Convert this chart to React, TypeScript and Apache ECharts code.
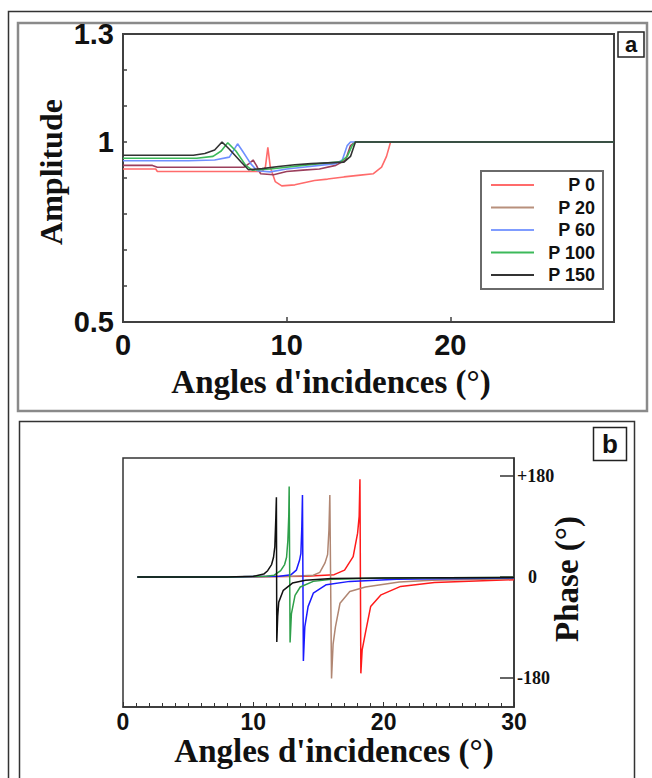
import React, { useEffect, useRef } from "react";
import * as echarts from "echarts";

// ---------- data ----------
const seriesNames = ["P 0", "P 20", "P 60", "P 100", "P 150"];

// Amplitude vs incidence angle (panel a)
const ampP0 = [[0,0.925],[2,0.925],[2.1,0.918],[5,0.918],[8.5,0.918],[8.7,0.93],[8.85,0.985],[9.0,0.93],[9.3,0.89],[9.7,0.878],[10.5,0.881],[11.7,0.893],[12.5,0.897],[13.5,0.903],[14.5,0.908],[15.3,0.912],[15.8,0.93],[16.1,0.96],[16.35,1.0],[30,1.0]];
const ampP20 = [[0,0.935],[1.8,0.935],[2.1,0.93],[7.4,0.93],[7.7,0.94],[7.95,0.95],[8.15,0.935],[8.4,0.912],[9.2,0.909],[10,0.918],[11,0.922],[12,0.925],[13,0.935],[13.6,0.95],[13.9,0.99],[14.2,1.0],[30,1.0]];
const ampP60 = [[0,0.948],[4,0.948],[5.6,0.95],[6.5,0.958],[7.0,0.995],[7.3,0.975],[7.8,0.94],[8.2,0.92],[9,0.917],[10,0.925],[11,0.93],[12,0.935],[13,0.94],[13.4,0.95],[13.7,0.99],[13.9,1.0],[30,1.0]];
const ampP100 = [[0,0.955],[4.5,0.955],[5.5,0.96],[6.0,0.975],[6.4,0.998],[6.9,0.975],[7.5,0.935],[7.9,0.922],[9,0.925],[10,0.93],[11,0.935],[12,0.94],[13.3,0.945],[13.7,0.96],[14.0,0.99],[14.2,1.0],[30,1.0]];
const ampP150 = [[0,0.963],[4.3,0.963],[5,0.968],[5.6,0.978],[6.05,1.0],[6.5,0.98],[7.2,0.945],[7.67,0.923],[8.5,0.926],[9.5,0.932],[10.5,0.937],[11.5,0.94],[12.5,0.942],[13.5,0.944],[13.9,0.96],[14.2,1.0],[30,1.0]];

// Phase vs incidence angle (panel b)
const phP0 = [[1.1,0],[8,0],[14,1],[16.2,4],[17,12],[17.66,36],[18.0,78],[18.12,108],[18.18,174],[18.25,-172],[18.35,-130],[18.6,-100],[19.0,-53],[19.8,-32],[21.3,-17],[23.9,-10],[30,-5]];
const phP20 = [[1.1,0],[8,0],[13,1],[14.6,3],[15.1,8],[15.5,25],[15.7,40],[15.8,83],[15.87,146],[16.0,-181],[16.12,-120],[16.3,-89],[16.65,-47],[17.4,-26],[18.6,-18],[21.2,-9],[23.7,-6],[30,-3]];
const phP60 = [[1.1,0],[8,0],[12,1],[12.9,4],[13.3,12],[13.55,30],[13.65,42],[13.72,89],[13.77,146],[13.84,-150],[13.95,-89],[14.2,-53],[14.6,-29],[15.6,-14],[17.4,-8],[21,-4],[30,-2]];
const phP100 = [[1.1,0],[8,0],[11,1],[11.6,3],[12.1,11],[12.4,22],[12.55,35],[12.65,65],[12.72,110],[12.75,161],[12.82,-117],[12.92,-66],[13.2,-33],[13.6,-18],[14.6,-8],[16,-4],[20,-2],[30,-1]];
const phP150 = [[1.1,0],[8,0],[10,1],[10.8,5],[11.1,11],[11.4,22],[11.55,35],[11.65,54],[11.72,101],[11.77,142],[11.8,-116],[11.87,-70],[11.95,-45],[12.3,-24],[13,-11],[14,-6],[16,-3],[20,-2],[30,-1]];

const ampXLabels = [0, 10, 20];
const ampYLabels = [0.5, 1, 1.3];
const phXLabels = [0, 10, 20, 30];
const phYLabels = [-180, 0, 180];

const ampColors = ["#ff6b6b", "#9b3f5c", "#6f8fff", "#3cb95a", "#333333"];
const legendColors = ["#ff6b6b", "#b8907c", "#7f9cff", "#3cb95a", "#333333"];
const phColors = ["#ff1a1a", "#b08672", "#1a1aff", "#2ea04a", "#111111"];

const ampData = [ampP0, ampP20, ampP60, ampP100, ampP150];
const phData = [phP0, phP20, phP60, phP100, phP150];

export default function App() {
  const ref = useRef<HTMLDivElement>(null);
  useEffect(() => {
    const chart = echarts.init(ref.current!, null, { renderer: "svg" });
    const sans = "Liberation Sans";
    const serif = "Liberation Serif";
    const series: any[] = [];
    ampData.forEach((d, i) => {
      series.push({
        name: seriesNames[i],
        type: "line",
        xAxisIndex: 0,
        yAxisIndex: 0,
        data: d,
        showSymbol: false,
        symbol: "none",
        lineStyle: { color: ampColors[i], width: 1.6 },
        itemStyle: { color: ampColors[i] },
        z: 2 + i,
      });
    });
    phData.forEach((d, i) => {
      series.push({
        name: seriesNames[i] + " phase",
        type: "line",
        xAxisIndex: 1,
        yAxisIndex: 1,
        data: d,
        showSymbol: false,
        symbol: "none",
        lineStyle: { color: phColors[i], width: 1.5 },
        itemStyle: { color: phColors[i] },
        z: 2 + i,
      });
    });

    const option: any = {
      animation: false,
      backgroundColor: "#ffffff",
      grid: [
        { left: 123, top: 34, width: 491, height: 288, show: true, borderColor: "#404040", borderWidth: 2, backgroundColor: "transparent" },
        { left: 123, top: 458, width: 391, height: 249, show: true, borderColor: "#333333", borderWidth: 1.5, backgroundColor: "transparent" },
      ],
      xAxis: [
        {
          type: "value", gridIndex: 0, min: 0, max: 30, interval: 10,
          axisLine: { show: true, onZero: false, lineStyle: { color: "#404040", width: 2 } },
          axisTick: { show: true, inside: true, length: 5, lineStyle: { color: "#404040", width: 1.5 } },
          splitLine: { show: false },
          axisLabel: {
            margin: 8, fontSize: 29, fontWeight: "bold", fontFamily: sans, color: "#111",
            formatter: (v: number) => (ampXLabels.includes(Math.round(v)) ? String(Math.round(v)) : ""),
          },
        },
        {
          type: "value", gridIndex: 1, min: 0, max: 30, interval: 10,
          axisLine: { show: true, onZero: false, lineStyle: { color: "#333", width: 1.5 } },
          axisTick: { show: true, inside: true, length: 5, lineStyle: { color: "#333" } },
          minorTick: { show: true, splitNumber: 10, length: 4, lineStyle: { color: "#333" } },
          splitLine: { show: false },
          axisLabel: {
            margin: 3, fontSize: 23, fontWeight: "bold", fontFamily: sans, color: "#111",
            formatter: (v: number) => (phXLabels.includes(Math.round(v)) ? String(Math.round(v)) : ""),
          },
        },
      ],
      yAxis: [
        {
          type: "value", gridIndex: 0, min: 0.5, max: 1.3, interval: 0.1,
          axisLine: { show: true, onZero: false, lineStyle: { color: "#404040", width: 2 } },
          axisTick: { show: true, inside: true, length: 4, lineStyle: { color: "#404040", width: 1.5 } },
          splitLine: { show: false },
          axisLabel: {
            margin: 9, fontSize: 29, fontWeight: "bold", fontFamily: sans, color: "#111",
            formatter: (v: number) => {
              const r = Number(v.toFixed(2));
              return ampYLabels.some((l) => Math.abs(l - r) < 1e-6) ? String(r) : "";
            },
          },
        },
        {
          type: "value", gridIndex: 1, position: "right", min: -232, max: 212,
          axisLine: { show: true, onZero: false, lineStyle: { color: "#333", width: 1.5 } },
          axisTick: { show: true, inside: true, length: 14, customValues: phYLabels, lineStyle: { color: "#333", width: 1.5 } },
          splitLine: { show: false },
          axisLabel: {
            customValues: phYLabels,
            margin: 3, fontSize: 18, fontWeight: "bold", fontFamily: serif, color: "#111",
            formatter: (v: number) => (v > 0 ? "{n|+" + v + "}" : v === 0 ? "{z|0}" : "{n|" + v + "}"),
            rich: {
              n: { fontSize: 18, fontWeight: "bold", fontFamily: serif, color: "#111" },
              z: { fontSize: 18, fontWeight: "bold", fontFamily: serif, color: "#111", padding: [0, 0, 0, 11] },
            },
          },
        },
      ],
      legend: {
        left: 481, top: 171,
        orient: "vertical",
        padding: [5, 8, 5, 10],
        itemGap: 4.5,
        itemWidth: 43, itemHeight: 2,
        icon: "rect",
        borderColor: "#6a6a6a", borderWidth: 2,
        backgroundColor: "#ffffff",
        data: seriesNames.map((n, i) => ({ name: n, itemStyle: { color: legendColors[i] } })),
        formatter: (name: string) => "{t|" + name + "}",
        textStyle: {
          rich: { t: { width: 56, align: "right", fontSize: 18, lineHeight: 18, fontWeight: "bold", fontFamily: sans, color: "#111" } },
        },
        selectedMode: false,
      },
      graphic: [
        { type: "rect", shape: { x: 8.5, y: 11.5, width: 700, height: 800 }, style: { fill: "none", stroke: "#333", lineWidth: 1.5 }, silent: true },
        { type: "rect", shape: { x: 18, y: 23, width: 629, height: 388 }, style: { fill: "none", stroke: "#8a8a8a", lineWidth: 2.5 }, silent: true },
        { type: "rect", shape: { x: 19.5, y: 421.5, width: 615, height: 400 }, style: { fill: "none", stroke: "#333", lineWidth: 1.5 }, silent: true },
        { type: "rect", shape: { x: 618, y: 32, width: 26, height: 25 }, style: { fill: "#fff", stroke: "#222", lineWidth: 1.5 }, silent: true },
        { type: "text", x: 631, y: 44.5, style: { text: "a", font: 'bold 22px "Liberation Sans"', textAlign: "center", textVerticalAlign: "middle", fill: "#111" }, silent: true },
        { type: "rect", shape: { x: 593.5, y: 427.5, width: 33, height: 33 }, style: { fill: "#fff", stroke: "#222", lineWidth: 1.5 }, silent: true },
        { type: "text", x: 610, y: 443.5, style: { text: "b", font: 'bold 26px "Liberation Sans"', textAlign: "center", textVerticalAlign: "middle", fill: "#111" }, silent: true },
        { type: "text", x: 51, y: 172, rotation: Math.PI / 2, style: { text: "Amplitude", font: 'bold 32px "Liberation Serif"', textAlign: "center", textVerticalAlign: "middle", fill: "#111" }, silent: true },
        { type: "text", x: 331, y: 382, style: { text: "Angles d'incidences (°)", font: 'bold 33px "Liberation Serif"', textAlign: "center", textVerticalAlign: "middle", fill: "#111" }, silent: true },
        { type: "text", x: 567, y: 579, rotation: Math.PI / 2, style: { text: "Phase (°)", font: 'bold 33px "Liberation Serif"', textAlign: "center", textVerticalAlign: "middle", fill: "#111" }, silent: true },
        { type: "text", x: 334, y: 751, style: { text: "Angles d'incidences (°)", font: 'bold 33px "Liberation Serif"', textAlign: "center", textVerticalAlign: "middle", fill: "#111" }, silent: true },
      ],
      series,
    };
    chart.setOption(option);
    return () => chart.dispose();
  }, []);
  return (
    <div
      ref={ref}
      style={{ position: "fixed", left: 0, top: 0, width: 652, height: 778, background: "#fff" }}
    />
  );
}
